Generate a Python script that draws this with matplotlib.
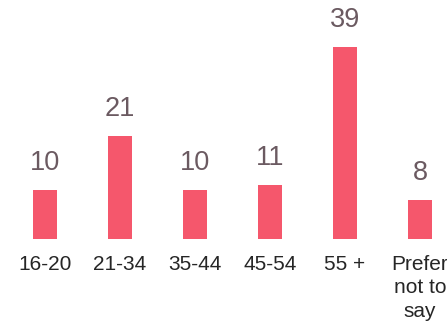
import matplotlib.pyplot as plt

plt.rcParams["font.family"] = ["Liberation Sans", "DejaVu Sans"]

categories = ["16-20", "21-34", "35-44", "45-54", "55 +", "Prefer\nnot to\nsay"]
counts = [10, 21, 10, 11, 39, 8]

bar_color = "#F5576C"
value_color = "#6B5A61"
label_color = "#262626"

fig = plt.figure(figsize=(4.47, 3.25), dpi=100)
ax = fig.add_axes([0, 86 / 325, 1, 239 / 325])

x = list(range(len(categories)))
bars = ax.bar(x, counts, width=0.32, color=bar_color)

# value above each bar
for rect, val in zip(bars, counts):
    ax.annotate(str(val), (rect.get_x() + rect.get_width() / 2, rect.get_height()),
                xytext=(0, 10), textcoords="offset points",
                ha="center", va="bottom", fontsize=19.5, color=value_color)

ax.set_xlim(-0.6, 5.36)
ax.set_ylim(0, 48.5)
ax.set_xticks(x)
ax.set_xticklabels(categories, fontsize=15, color=label_color, linespacing=1.3)
ax.tick_params(axis="x", length=0, pad=11.5)
ax.set_yticks([])
for side in ax.spines.values():
    side.set_visible(False)

fig.savefig("out.png", dpi=100)
